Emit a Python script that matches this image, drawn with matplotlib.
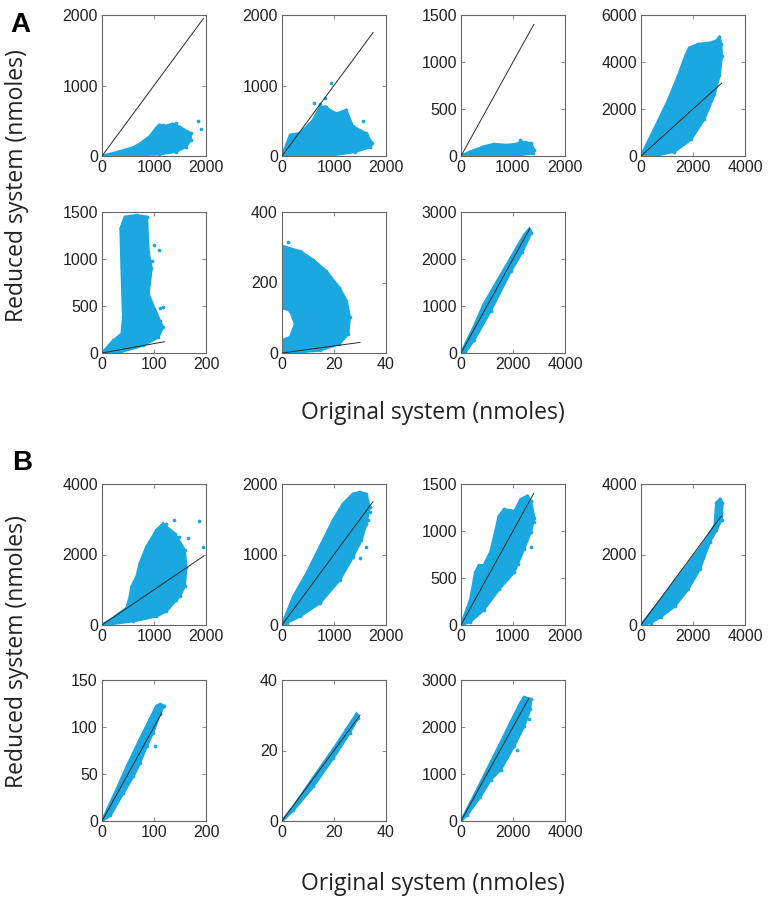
import matplotlib
matplotlib.use('Agg')
import matplotlib.pyplot as plt
import numpy as np

# ---- panel A: outline of the dense point cloud + stray points, per subplot ----
a1_x = [0, 300, 600, 725, 915, 1040, 1104, 1230, 1356, 1483, 1609, 1703, 1703, 1609, 1420, 1104, 600, 200]
a1_y = [0, 55, 120, 170, 274, 392, 440, 425, 454, 416, 359, 321, 227, 132, 61, 28, 10, 0]
a1_px = [1840, 1905, 1660, 1170, 1420]
a1_py = [490, 390, 345, 440, 470]

a2_x = [0, 160, 350, 600, 730, 840, 935, 1050, 1230, 1360, 1610, 1735, 1700, 1400, 980, 500]
a2_y = [0, 300, 320, 510, 690, 700, 640, 600, 650, 420, 320, 180, 130, 60, 15, 5]
a2_px = [935, 820, 610, 730, 1550, 1700, 1640]
a2_py = [1040, 820, 750, 740, 490, 180, 300]

a3_x = [0, 180, 440, 630, 900, 1085, 1150, 1340, 1405, 1375, 1085, 500]
a3_y = [0, 45, 100, 125, 115, 130, 150, 135, 65, 28, 10, 5]
a3_px = [1135, 1240]
a3_py = [175, 150]

a4_x = [0, 513, 1026, 1410, 1731, 1859, 2179, 2692, 2885, 3013, 3077, 3103, 3013, 2821, 2436, 1923, 1282, 641]
a4_y = [0, 1147, 2324, 3353, 4309, 4603, 4750, 4824, 4897, 5044, 4750, 4235, 3426, 2618, 1588, 706, 191, 44]
a4_px = [3010, 2650]
a4_py = [4980, 2400]

a5_x = [0, 22, 38, 41, 38, 36, 44, 67, 86, 89, 95, 89, 111, 117, 108, 79, 35]
a5_y = [0, 133, 203, 378, 904, 1325, 1447, 1465, 1447, 1079, 904, 624, 343, 273, 168, 81, 11]
a5_px = [110, 111, 117, 97, 100]
a5_py = [1097, 484, 491, 980, 1150]

a6_x = [0, 0, 3.2, 5.1, 3.2, 0, 0, 0.6, 7, 12, 17, 22, 24.8, 26, 25.4, 22, 14.6, 7]
a6_y = [0, 36, 45, 82, 120, 129, 288, 302, 288, 264, 232, 185, 148, 101, 54, 26, 7.5, 3]
a6_px = [2.2, 12, 17]
a6_py = [316, 262, 228]

a7_x = [0, 490, 877, 1394, 1910, 2426, 2619, 2684, 2361, 1910, 1135, 490, 168]
a7_y = [0, 547, 1037, 1528, 2019, 2509, 2636, 2544, 2159, 1738, 897, 266, 21]
a7_px = [2650]
a7_py = [2600]

# ---- panel B ----
b1_x = [0, 222, 476, 540, 571, 667, 730, 857, 1048, 1175, 1238, 1397, 1587, 1619, 1587, 1492, 1429, 1238, 1048, 603]
b1_y = [0, 206, 487, 815, 1096, 1377, 1752, 2220, 2689, 2876, 2782, 2595, 2126, 1658, 1096, 815, 721, 393, 253, 112]
b1_px = [1378, 1238, 1860, 1937, 1651, 1397, 1543, 1480, 1120]
b1_py = [2970, 2876, 2941, 2220, 2454, 881, 1677, 2500, 2750]

b2_x = [0, 222, 476, 730, 984, 1175, 1365, 1492, 1619, 1683, 1619, 1524, 1365, 1111, 730, 349, 95]
b2_y = [0, 407, 735, 1110, 1485, 1719, 1859, 1883, 1859, 1672, 1438, 1204, 970, 642, 314, 126, 33]
b2_px = [1651, 1492, 1619, 1575, 1700]
b2_py = [1485, 946, 1110, 1742, 1600]

b3_x = [0, 181, 277, 342, 439, 568, 632, 729, 826, 1032, 1148, 1277, 1342, 1406, 1342, 1213, 1019, 729, 439, 181]
b3_y = [0, 271, 560, 633, 633, 777, 922, 1157, 1229, 1211, 1337, 1373, 1319, 1139, 994, 813, 560, 380, 163, 36]
b3_px = [1342, 1100, 1400]
b3_py = [831, 650, 1100]

b4_x = [0, 774, 1677, 2452, 2839, 2903, 3032, 3123, 3097, 2903, 2645, 2258, 1806, 1290, 774, 387]
b4_y = [0, 723, 1590, 2361, 2843, 3470, 3566, 3470, 2988, 2699, 2361, 1590, 1012, 530, 241, 67]
b4_px = [2950, 3050]
b4_py = [3400, 3500]

b5_x = [0, 22, 48, 73, 92, 105, 111, 119, 111, 98, 86, 73, 60, 41, 16]
b5_y = [0, 26, 58, 87, 108, 122.5, 124, 122.5, 114, 94, 80, 62, 47.5, 30, 6]
b5_px = [102]
b5_py = [80]

b6_x = [0, 4.4, 13.3, 19.7, 24.8, 28.6, 29.2, 26, 19.7, 12, 4.4]
b6_y = [0, 4.1, 13.6, 20.3, 26, 30.3, 29.3, 25, 17.9, 9.8, 3.1]
b6_px = [29]
b6_py = [30]

b7_x = [0, 490, 1006, 1523, 2035, 2297, 2426, 2684, 2658, 2426, 2035, 1523, 1135, 748, 232]
b7_y = [0, 521, 1093, 1664, 2236, 2521, 2629, 2593, 2379, 2021, 1593, 1093, 879, 521, 129]
b7_px = [2619, 2168, 1110]
b7_py = [2164, 1521, 950]

# identity line end, axis max and tick step for each subplot
a_line_end = [1950, 1750, 1400, 3100, 120, 30, 2650]
a_xmax = [2000, 2000, 2000, 4000, 200, 40, 4000]
a_xstep = [1000, 1000, 1000, 2000, 100, 20, 2000]
a_ymax = [2000, 2000, 1500, 6000, 1500, 400, 3000]
a_ystep = [1000, 1000, 500, 2000, 500, 200, 1000]

b_line_end = [1950, 1750, 1400, 3100, 115, 30, 2600]
b_xmax = [2000, 2000, 2000, 4000, 200, 40, 4000]
b_xstep = [1000, 1000, 1000, 2000, 100, 20, 2000]
b_ymax = [4000, 2000, 1500, 4000, 150, 40, 3000]
b_ystep = [2000, 1000, 500, 2000, 50, 20, 1000]

clouds_a = [(a1_x, a1_y, a1_px, a1_py), (a2_x, a2_y, a2_px, a2_py), (a3_x, a3_y, a3_px, a3_py),
            (a4_x, a4_y, a4_px, a4_py), (a5_x, a5_y, a5_px, a5_py), (a6_x, a6_y, a6_px, a6_py),
            (a7_x, a7_y, a7_px, a7_py)]
clouds_b = [(b1_x, b1_y, b1_px, b1_py), (b2_x, b2_y, b2_px, b2_py), (b3_x, b3_y, b3_px, b3_py),
            (b4_x, b4_y, b4_px, b4_py), (b5_x, b5_y, b5_px, b5_py), (b6_x, b6_y, b6_px, b6_py),
            (b7_x, b7_y, b7_px, b7_py)]

W, H = 768, 898
CYAN = '#1ba7e0'
col_left = [102, 282, 461, 641]
ax_w, ax_h = 104, 141
rows_a = [156, 353]   # bottom pixel of each row
rows_b = [625, 821]

plt.rcParams['font.family'] = ['Liberation Sans', 'DejaVu Sans']
fig = plt.figure(figsize=(W / 100, H / 100), dpi=100)


def draw_panel(clouds, line_end, xmax, xstep, ymax, ystep, row_bottoms):
    for i in range(7):
        r, c = divmod(i, 4)
        left = col_left[c]
        bottom = row_bottoms[r]
        ax = fig.add_axes([left / W, 1 - bottom / H, ax_w / W, ax_h / H])
        cx, cy, px, py = clouds[i]
        ax.fill(cx, cy, color=CYAN, lw=2.0, zorder=2)
        ax.scatter(cx + px, cy + py, s=7, color=CYAN, lw=0, zorder=2)
        ax.plot([0, line_end[i]], [0, line_end[i]], color='#2a2a2a', lw=0.7, zorder=3)
        ax.set_xlim(0, xmax[i])
        ax.set_ylim(0, ymax[i])
        ax.set_xticks(np.arange(0, xmax[i] + 1, xstep[i]))
        ax.set_yticks(np.arange(0, ymax[i] + 1, ystep[i]))
        ax.tick_params(direction='in', top=True, right=True, length=3, width=0.6,
                       color='#777777', labelcolor='#222222', labelsize=11.5, pad=3)
        for s in ax.spines.values():
            s.set_color('#666666')
            s.set_linewidth(0.8)


draw_panel(clouds_a, a_line_end, a_xmax, a_xstep, a_ymax, a_ystep, rows_a)
draw_panel(clouds_b, b_line_end, b_xmax, b_xstep, b_ymax, b_ystep, rows_b)

lab_font = ['Open Sans', 'DejaVu Sans']
fig.text(10 / W, 1 - 25 / H, 'A', fontsize=20, fontweight='bold', va='center', ha='left')
fig.text(12 / W, 1 - 463 / H, 'B', fontsize=20, fontweight='bold', va='center', ha='left')
for yc in [186, 652]:
    fig.text(17 / W, 1 - yc / H, 'Reduced system (nmoles)', rotation=90, fontsize=16.5,
             family=lab_font, color='#222222', va='center', ha='center')
for yc in [413, 884]:
    fig.text(433 / W, 1 - yc / H, 'Original system (nmoles)', fontsize=16.5,
             family=lab_font, color='#222222', va='center', ha='center')

fig.savefig('out.png', dpi=100)
